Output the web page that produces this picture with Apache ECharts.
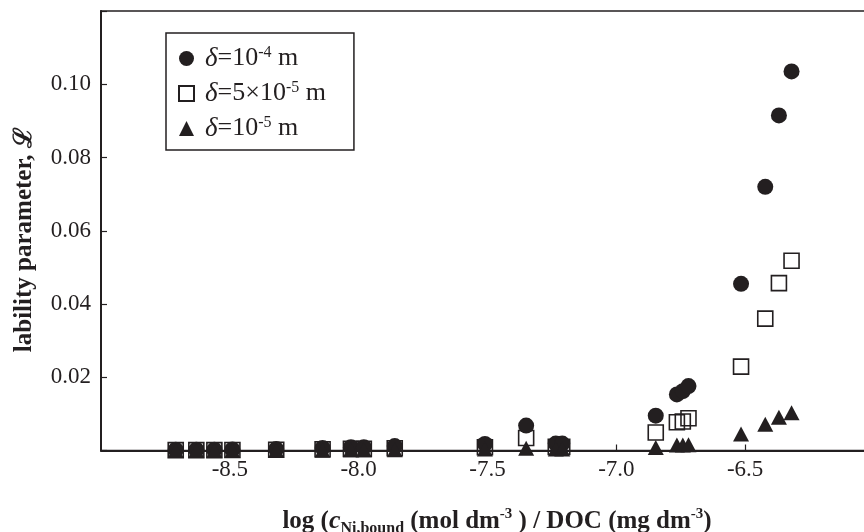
<!DOCTYPE html>
<html>
<head>
<meta charset="utf-8">
<script src="https://cdn.jsdelivr.net/npm/echarts@6/dist/echarts.min.js"></script>
<style>html,body{margin:0;padding:0;background:#fff}#c{width:864px;height:532px}</style>
</head>
<body>
<div id="c"></div>
<script>
// x: log (c_Ni,bound / DOC)
var xValues = [-8.71, -8.63, -8.56, -8.49, -8.32, -8.14, -8.03, -7.98, -7.86,
               -7.51, -7.35, -7.235, -7.21,
               -6.847, -6.765, -6.742, -6.720, -6.516, -6.422, -6.369, -6.320];
// delta = 1e-4 m (filled circles)
var lab1e4 = [0.0002, 0.0002, 0.0002, 0.0003, 0.0004, 0.0007, 0.0009, 0.0009, 0.0012,
              0.0018, 0.0068, 0.0019, 0.0019,
              0.0095, 0.0153, 0.0162, 0.0176, 0.0455, 0.0720, 0.0915, 0.1035];
// delta = 5e-5 m (open squares)
var lab5e5 = [0.0001, 0.0001, 0.0001, 0.00015, 0.0002, 0.00035, 0.00045, 0.00045, 0.0006,
              0.0009, 0.0034, 0.0010, 0.0010,
              0.0049, 0.0077, 0.0079, 0.0088, 0.0229, 0.0360, 0.0457, 0.0518];
// delta = 1e-5 m (filled triangles)
var lab1e5 = [0, 0, 0, 0, 0.0001, 0.0001, 0.0002, 0.0002, 0.0002,
              0.0004, 0.0006, 0.0004, 0.0004,
              0.0008, 0.0015, 0.0015, 0.0016, 0.0045, 0.0072, 0.0091, 0.0103];
var seriesNames = ['δ=10-4 m', 'δ=5×10-5 m', 'δ=10-5 m'];
var legendRich = [
  '{i|δ}{t|=10}{s|-4}{t| m}',
  '{i|δ}{t|=5×10}{s|-5}{t| m}',
  '{i|δ}{t|=10}{s|-5}{t| m}'
];
var yTicks = [0.02, 0.04, 0.06, 0.08, 0.10];

function pairs(ys) { return xValues.map(function (x, i) { return [x, ys[i]]; }); }

var ink = '#231f20';
var serif = '"Liberation Serif", "Times New Roman", serif';
var chart = echarts.init(document.getElementById('c'), null, {renderer: 'canvas'});
chart.setOption({
  animation: false,
  backgroundColor: '#fff',
  grid: {left: 101, right: -10, top: 11, bottom: 81.5, outerBoundsMode: 'none', containLabel: false,
         show: true, borderColor: ink, borderWidth: 1.5, backgroundColor: 'transparent'},
  legend: {
    orient: 'vertical',
    left: 166, top: 33,
    data: seriesNames,
    backgroundColor: '#fff',
    borderColor: ink, borderWidth: 1.5, borderRadius: 0,
    padding: [12, 28, 8, 12],
    itemWidth: 15, itemHeight: 15, itemGap: 8,
    formatter: function (name) { return legendRich[seriesNames.indexOf(name)]; },
    textStyle: {
      color: ink, fontFamily: serif, fontSize: 26, padding: [0, 0, 0, 6],
      rich: {
        i: {fontFamily: serif, fontStyle: 'italic', fontSize: 27, color: ink, lineHeight: 27, verticalAlign: 'middle'},
        t: {fontFamily: serif, fontSize: 26, color: ink, lineHeight: 27, verticalAlign: 'middle'},
        s: {fontFamily: serif, fontSize: 16, color: ink, lineHeight: 16, verticalAlign: 'top'}
      }
    }
  },
  xAxis: {
    type: 'value', min: -9, max: -6, interval: 0.5,
    axisLine: {show: true, lineStyle: {color: ink, width: 2}},
    axisTick: {show: true, inside: true, length: 6, lineStyle: {color: ink, width: 1.2}},
    splitLine: {show: false},
    axisLabel: {
      showMinLabel: false, showMaxLabel: false, margin: 8,
      color: ink, fontFamily: serif, fontSize: 23,
      formatter: function (v) { return v.toFixed(1); }
    },
    name: '{b|log (}{c|c}{sub|Ni,bound}{b| (mol dm}{sup|-3}{b| ) / DOC (mg dm}{sup|-3}{b|)}',
    nameLocation: 'middle', nameGap: 56,
    nameTextStyle: {
      padding: [0, 0, 0, 19],
      rich: {
        b: {fontFamily: serif, fontWeight: 'bold', fontSize: 25, color: ink, lineHeight: 30, verticalAlign: 'middle'},
        c: {fontFamily: serif, fontWeight: 'bold', fontStyle: 'italic', fontSize: 26, color: ink, lineHeight: 30, verticalAlign: 'middle'},
        sub: {fontFamily: serif, fontWeight: 'bold', fontSize: 16, color: ink, lineHeight: 16, verticalAlign: 'bottom'},
        sup: {fontFamily: serif, fontWeight: 'bold', fontSize: 15, color: ink, lineHeight: 15, verticalAlign: 'top'}
      }
    }
  },
  yAxis: {
    type: 'value', min: 0, max: 0.12, interval: 0.02,
    axisLine: {show: true, lineStyle: {color: ink, width: 2}},
    axisTick: {show: true, inside: true, length: 6, lineStyle: {color: ink, width: 1.2}},
    splitLine: {show: false},
    axisLabel: {
      margin: 10, color: ink, fontFamily: serif, fontSize: 23,
      formatter: function (v) {
        for (var k = 0; k < yTicks.length; k++) { if (Math.abs(v - yTicks[k]) < 1e-9) return yTicks[k].toFixed(2); }
        return '';
      }
    },
    name: 'lability parameter, ℒ',
    nameLocation: 'middle', nameGap: 64,
    nameTextStyle: {fontFamily: serif, fontWeight: 'bold', fontSize: 25, color: ink, padding: [0, 0, 0, -18]}
  },
  series: [
    {
      name: seriesNames[1], type: 'scatter', symbol: 'rect', symbolSize: 15, z: 2,
      itemStyle: {color: 'rgba(255,255,255,0)', borderColor: ink, borderWidth: 1.6, opacity: 1},
      data: pairs(lab5e5)
    },
    {
      name: seriesNames[0], type: 'scatter', symbol: 'circle', symbolSize: 16, z: 3,
      itemStyle: {color: ink, opacity: 1},
      data: pairs(lab1e4)
    },
    {
      name: seriesNames[2], type: 'scatter', symbol: 'triangle', symbolSize: [16, 15], z: 4,
      itemStyle: {color: ink, opacity: 1},
      data: pairs(lab1e5)
    }
  ]
});
</script>
</body>
</html>
